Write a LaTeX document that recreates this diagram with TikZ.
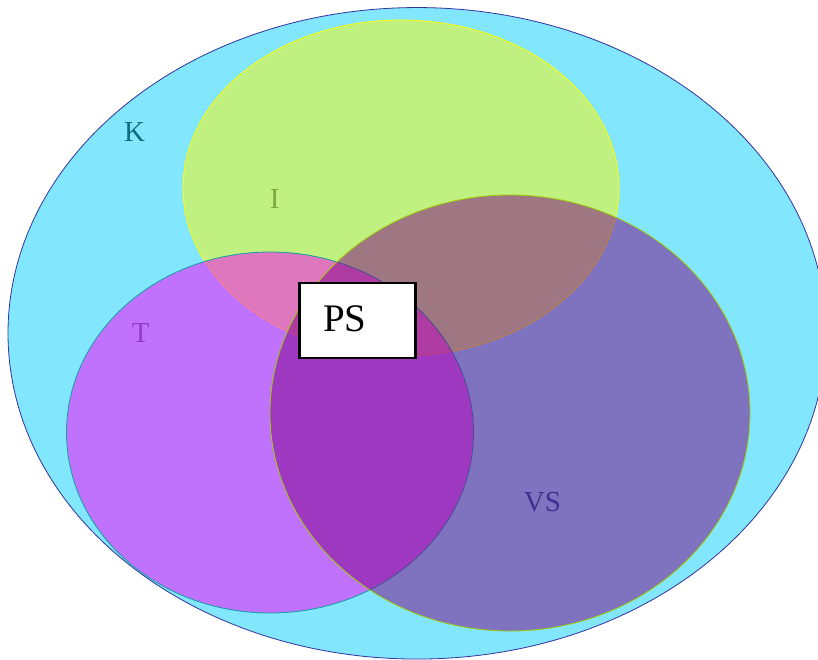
\documentclass[tikz,border=0pt]{standalone}
\usepackage{fontspec}
\setmainfont{Liberation Serif}
\usetikzlibrary{shapes.geometric}
\definecolor{kfill}{RGB}{130,230,252}
\definecolor{kline}{RGB}{50,50,160}
\definecolor{ifill}{RGB}{192,240,128}
\definecolor{iline}{RGB}{255,255,0}
\definecolor{tfill}{RGB}{255,0,255}
\definecolor{tline}{RGB}{16,160,160}
\definecolor{vfill}{RGB}{126,0,132}
\definecolor{vline}{RGB}{160,208,0}
\definecolor{ktext}{RGB}{16,110,128}
\definecolor{itext}{RGB}{128,168,64}
\definecolor{ttext}{RGB}{144,64,200}
\definecolor{vtext}{RGB}{64,48,144}
\tikzset{
  setshape/.style={ellipse, inner sep=0pt, line width=0.8pt},
  setlabel/.style={font=\fontsize{29}{31}\selectfont, inner sep=0pt},
  psbox/.style={draw=black, fill=white, line width=2.8pt, inner sep=0pt},
}
\begin{document}
\begin{tikzpicture}[x=1pt,y=-1pt]
\useasboundingbox (0,0) rectangle (818,659);
\clip (0,0) rectangle (818,659);
\node[setshape, draw=kline, fill=kfill, minimum width=818pt, minimum height=651.5pt] (K) at (417,333.3) {};
\node[setshape, draw=iline, fill=ifill, minimum width=436pt, minimum height=336pt] (I) at (401,188) {};
\node[setshape, draw=tline, fill=tfill, fill opacity=0.5, minimum width=407pt, minimum height=361pt] (T) at (270,432.5) {};
\node[setshape, draw=vline, fill=vfill, fill opacity=0.5, minimum width=480pt, minimum height=436pt] (VS) at (510,413) {};
\node[setlabel, text=ktext] (Klabel) at (134.5,132) {K};
\node[setlabel, text=itext] (Ilabel) at (274.8,198.7) {I};
\node[setlabel, text=ttext] (Tlabel) at (140.8,332.8) {T};
\node[setlabel, text=vtext] (VSlabel) at (542.5,501.7) {VS};
\node[psbox, minimum width=116pt, minimum height=75pt] (PSbox) at (357.5,320.4) {};
\node[font=\fontsize{39}{41}\selectfont, inner sep=0pt] (PS) at (345,319) {PS};
\end{tikzpicture}
\end{document}
